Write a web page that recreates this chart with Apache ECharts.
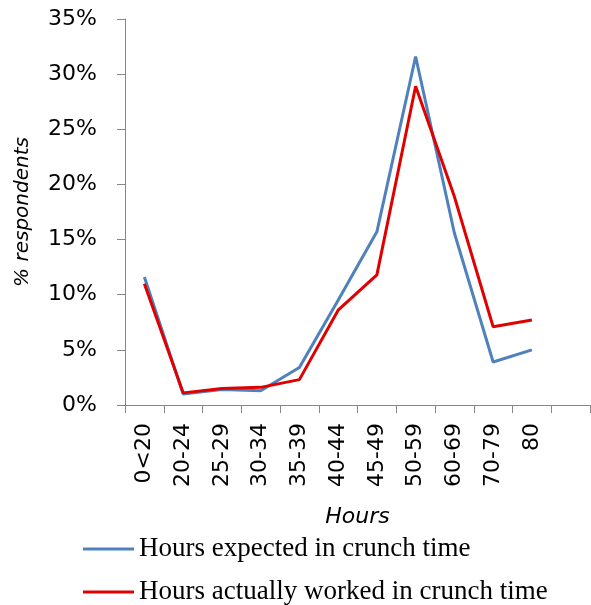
<!DOCTYPE html>
<html>
<head>
<meta charset="utf-8">
<script src="https://cdn.jsdelivr.net/npm/echarts@6/dist/echarts.min.js"></script>
<style>
html,body{margin:0;padding:0;background:#fff;}
#c{width:591px;height:605px;}
</style>
</head>
<body>
<div id="c"></div>
<script>
const categories = ['0<20','20-24','25-29','30-34','35-39','40-44','45-49','50-59','60-69','70-79','80',''];
const expected = [11.6, 1.0, 1.4, 1.3, 3.4, 9.5, 15.7, 31.6, 15.6, 3.9, 5.0];
const worked   = [11.0, 1.1, 1.5, 1.6, 2.3, 8.6, 11.8, 28.9, 18.9, 7.1, 7.7];
const seriesNames = ['Hours expected in crunch time', 'Hours actually worked in crunch time'];

const chart = echarts.init(document.getElementById('c'), null, {renderer:'canvas'});
const axisGray = '#868686';
const legendText = {fontFamily:'Liberation Serif', fontSize:27, color:'#000', lineHeight:30};
chart.setOption({
  animation:false,
  backgroundColor:'#fff',
  grid:{left:125, right:1, top:19, bottom:200, containLabel:false},
  legend:[
    {data:[seriesNames[0]], orient:'vertical', left:83, top:534, padding:0, itemWidth:51, itemHeight:3, icon:'rect', textStyle:legendText},
    {data:[seriesNames[1]], orient:'vertical', left:83, top:577, padding:0, itemWidth:51, itemHeight:3, icon:'rect', textStyle:legendText}
  ],
  xAxis:{
    type:'category', data:categories, boundaryGap:true,
    name:'Hours', nameLocation:'middle', nameGap:101,
    nameTextStyle:{fontFamily:'DejaVu Sans', fontStyle:'italic', fontSize:22, color:'#000'},
    axisLine:{lineStyle:{color:axisGray, width:1}},
    axisTick:{show:true, length:8, alignWithLabel:false, lineStyle:{color:axisGray}, interval:0},
    axisLabel:{rotate:90, interval:0, margin:18, fontFamily:'DejaVu Sans', fontSize:22, color:'#000'},
    splitLine:{show:false}
  },
  yAxis:{
    type:'value', min:0, max:35, interval:5,
    name:'% respondents', nameLocation:'middle', nameGap:92, nameRotate:90,
    nameTextStyle:{fontFamily:'DejaVu Sans', fontStyle:'italic', fontSize:20, color:'#000'},
    axisLine:{show:true, lineStyle:{color:axisGray, width:1}},
    axisTick:{show:true, length:8, lineStyle:{color:axisGray}},
    axisLabel:{formatter:'{value}%', margin:28, fontFamily:'DejaVu Sans', fontSize:22, color:'#000', padding:[6,0,0,0]},
    splitLine:{show:false}
  },
  series:[
    {name:seriesNames[0], type:'line', data:expected, showSymbol:false, symbol:'none',
     lineStyle:{color:'#4F81BD', width:3}, itemStyle:{color:'#4F81BD'}},
    {name:seriesNames[1], type:'line', data:worked, showSymbol:false, symbol:'none',
     lineStyle:{color:'#E00000', width:3}, itemStyle:{color:'#E00000'}}
  ]
});
</script>
</body>
</html>
